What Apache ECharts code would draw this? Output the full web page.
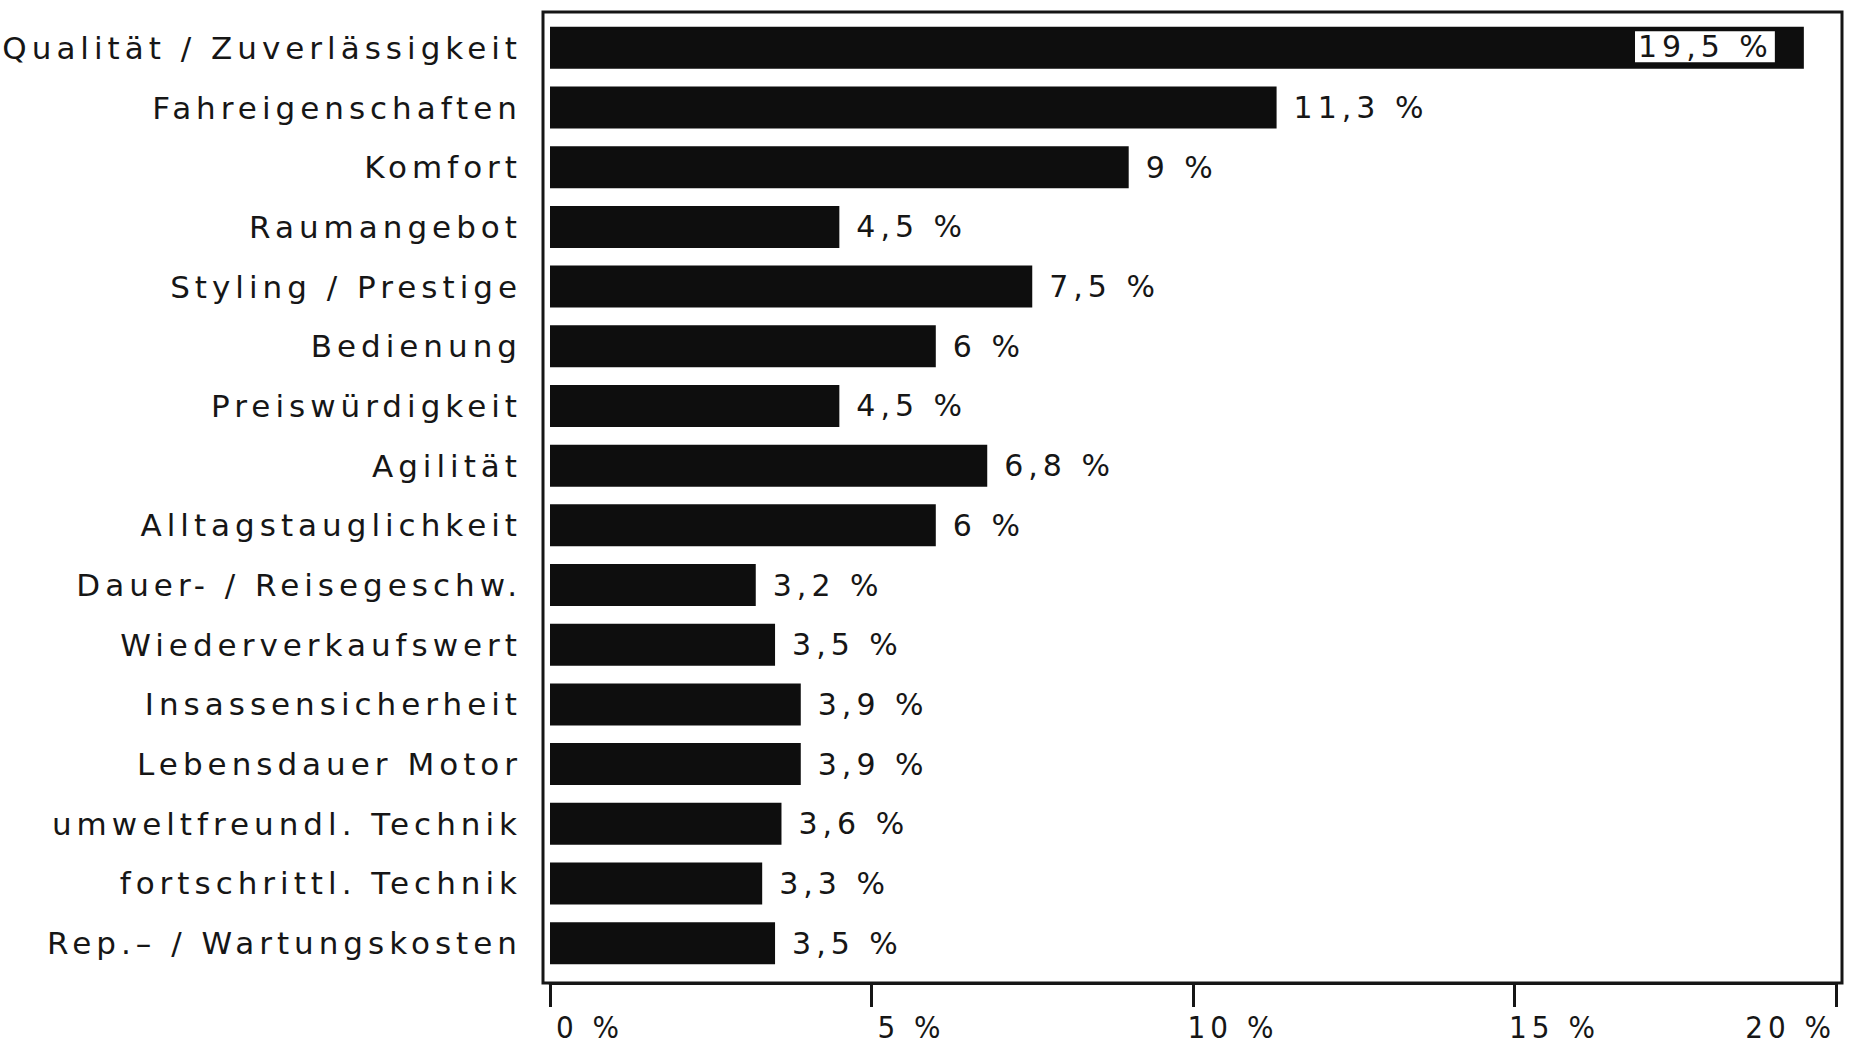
<!DOCTYPE html>
<html>
<head>
<meta charset="utf-8">
<title>Kaufgründe</title>
<script src="https://cdn.jsdelivr.net/npm/echarts@6/dist/echarts.min.js"></script>
<style>
  html, body { margin: 0; padding: 0; background: #fff; }
  #chart { width: 1869px; height: 1044px; }
  /* the scan uses loose tracking */
  #chart text { letter-spacing: 5px; }
</style>
</head>
<body>
<div id="chart"></div>
<script>
// Kategorien von oben nach unten
var categories = [
  'Qualität / Zuverlässigkeit',
  'Fahreigenschaften',
  'Komfort',
  'Raumangebot',
  'Styling / Prestige',
  'Bedienung',
  'Preiswürdigkeit',
  'Agilität',
  'Alltagstauglichkeit',
  'Dauer- / Reisegeschw.',
  'Wiederverkaufswert',
  'Insassensicherheit',
  'Lebensdauer Motor',
  'umweltfreundl. Technik',
  'fortschrittl. Technik',
  'Rep.– / Wartungskosten'
];
var values = [19.5, 11.3, 9, 4.5, 7.5, 6, 4.5, 6.8, 6, 3.2, 3.5, 3.9, 3.9, 3.6, 3.3, 3.5];

// x-Achse
var xMin = 0;
var xMax = 20;
var xStep = 5;

var FONT = '"DejaVu Sans", sans-serif';
var INK = '#161616';

function pct(v) {
  return String(v).replace('.', ',') + ' %';
}

var barData = values.map(function (v, i) {
  if (i === 0) {
    // größter Wert steht im weißen Kasten innerhalb des Balkens
    return {
      value: v,
      label: {
        position: 'insideRight',
        offset: [-12, -1],
        backgroundColor: '#fff',
        padding: [1, 2, 0, 33],
        color: INK
      }
    };
  }
  return v;
});

var chart = echarts.init(document.getElementById('chart'), null, { renderer: 'svg' });

var option = {
  backgroundColor: '#fff',
  animation: false,
  grid: [
    { left: 550, right: 33, top: 18, height: 955 },
    // Rahmen
    { left: 543, right: 27, top: 12, bottom: 61, show: true, borderColor: INK, borderWidth: 3, backgroundColor: 'transparent' }
  ],
  xAxis: [
    {
      type: 'value',
      gridIndex: 0,
      min: xMin,
      max: xMax,
      interval: xStep,
      offset: 10,
      axisLine: { show: true, lineStyle: { color: INK, width: 3 } },
      axisTick: { show: true, length: 24, lineStyle: { color: INK, width: 3 } },
      splitLine: { show: false },
      axisLabel: {
        formatter: '{value} %',
        color: INK,
        fontFamily: '"DejaVu Sans Condensed", "DejaVu Sans", sans-serif',
        fontSize: 31,
        margin: 28,
        padding: [0, 0, 0, 80],
        alignMaxLabel: 'right'
      }
    },
    { type: 'value', gridIndex: 1, show: false, min: 0, max: 1 }
  ],
  yAxis: [
    {
      type: 'category',
      gridIndex: 0,
      data: categories,
      inverse: true,
      axisLine: { show: false },
      axisTick: { show: false },
      axisLabel: {
        interval: 0,
        color: INK,
        fontFamily: FONT,
        fontSize: 31,
        margin: 28
      }
    },
    { type: 'category', gridIndex: 1, show: false, data: ['x'] }
  ],
  series: [
    {
      type: 'bar',
      xAxisIndex: 0,
      yAxisIndex: 0,
      data: barData,
      barWidth: 42,
      itemStyle: { color: '#0e0e0e' },
      label: {
        show: true,
        position: 'right',
        distance: 17,
        color: INK,
        fontFamily: FONT,
        fontSize: 30,
        formatter: function (p) { return pct(p.value); }
      }
    }
  ]
};

chart.setOption(option);
</script>
</body>
</html>
